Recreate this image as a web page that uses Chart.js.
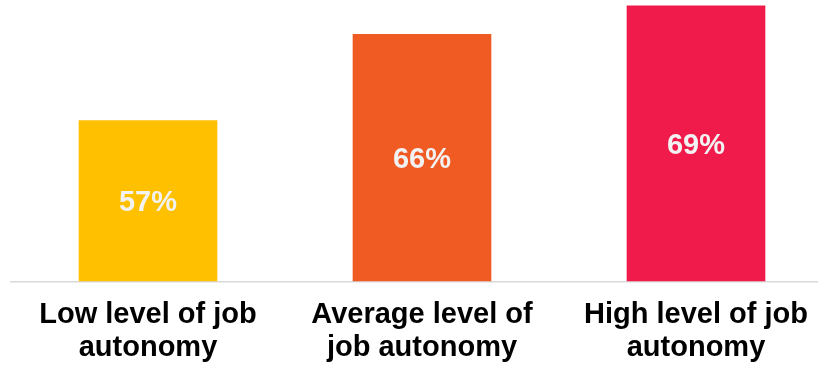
<!DOCTYPE html>
<html>
<head>
<meta charset="utf-8">
<script src="https://cdn.jsdelivr.net/npm/chart.js@4/dist/chart.umd.min.js"></script>
<style>
  html, body { margin: 0; padding: 0; background: #fff; overflow: hidden; }
  #wrap { width: 833px; height: 365px; }
</style>
</head>
<body>
<div id="wrap"><canvas id="barChart" width="833" height="365"></canvas></div>
<script>
// Share of respondents by level of job autonomy
const categories = [
  ['Low level of job', 'autonomy'],
  ['Average level of', 'job autonomy'],
  ['High level of job', 'autonomy']
];
const shares = [57, 66, 69];
const barColors = ['#FFC000', '#F05A23', '#F01A4B'];

// Writes the percentage in the middle of each bar
const valueLabels = {
  id: 'valueLabels',
  afterDatasetsDraw(chart) {
    const ctx = chart.ctx;
    const meta = chart.getDatasetMeta(0);
    const bottom = chart.chartArea.bottom;
    ctx.save();
    ctx.font = 'bold 29px "Liberation Sans", Arial, sans-serif';
    ctx.fillStyle = '#F2F2F2';
    ctx.textAlign = 'center';
    ctx.textBaseline = 'middle';
    meta.data.forEach((bar, i) => {
      const mid = (bar.y + Math.min(bar.base, bottom)) / 2;
      ctx.fillText(shares[i] + '%', bar.x, mid + 2);
    });
    ctx.restore();
  }
};

const ctx = document.getElementById('barChart').getContext('2d');
const barChart = new Chart(ctx, {
  type: 'bar',
  data: {
    labels: categories,
    datasets: [{
      data: shares,
      backgroundColor: barColors,
      borderWidth: 0,
      barThickness: 138
    }]
  },
  options: {
    responsive: false,
    animation: false,
    devicePixelRatio: 1,
    layout: { padding: { left: 11, right: 0, top: 0, bottom: -17 } },
    plugins: {
      legend: { display: false },
      tooltip: { enabled: false }
    },
    scales: {
      x: {
        grid: { display: false, drawTicks: false },
        border: { display: true, color: '#D9D9D9', width: 1.5 },
        ticks: {
          color: '#000',
          padding: 17,
          maxRotation: 0,
          font: { family: '"Liberation Sans", Arial, sans-serif', size: 29, weight: 'bold', lineHeight: 1.15 }
        }
      },
      y: {
        display: false,
        min: 40.2,
        max: 69.6
      }
    }
  },
  plugins: [valueLabels]
});
</script>
</body>
</html>
